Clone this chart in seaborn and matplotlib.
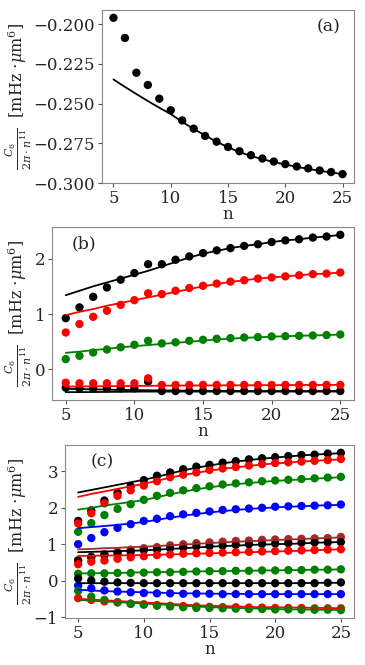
import numpy as np
import seaborn as sns
import matplotlib
matplotlib.use("Agg")
import matplotlib.pyplot as plt

# -------------------------------
# Data
# -------------------------------
n = np.arange(5, 26)

# panel (a)
a_dots = [-0.196, -0.2087, -0.2306, -0.2383, -0.2469, -0.2542, -0.2606, -0.2658, -0.2704,
          -0.2740, -0.2773, -0.2800, -0.2825, -0.2846, -0.2865, -0.2881, -0.2896, -0.2908,
          -0.2921, -0.2931, -0.2944]
a_line = [-0.2348, -0.2395, -0.2440, -0.2484, -0.2526, -0.2566, -0.2615, -0.2660, -0.2700,
          -0.2740, -0.2775, -0.2805, -0.2830, -0.2850, -0.2868, -0.2884, -0.2898, -0.2911,
          -0.2923, -0.2934, -0.2944]

# panel (b)
b_black_dots = [0.925, 1.12, 1.31, 1.48, 1.62, 1.74, 1.90, 1.90, 1.98, 2.04, 2.10, 2.15, 2.19,
                2.23, 2.26, 2.30, 2.33, 2.35, 2.38, 2.40, 2.43]
b_black_line = [1.34, 1.42, 1.50, 1.57, 1.64, 1.71, 1.78, 1.86, 1.94, 2.02, 2.09, 2.14, 2.19,
                2.23, 2.26, 2.30, 2.33, 2.35, 2.38, 2.40, 2.43]
b_red_dots = [0.667, 0.82, 0.95, 1.06, 1.165, 1.25, 1.375, 1.36, 1.42, 1.47, 1.51, 1.55, 1.585,
              1.61, 1.64, 1.66, 1.68, 1.70, 1.72, 1.73, 1.75]
b_red_line = [0.98, 1.04, 1.09, 1.15, 1.20, 1.25, 1.30, 1.35, 1.40, 1.45, 1.50, 1.54, 1.58,
              1.61, 1.64, 1.66, 1.68, 1.70, 1.72, 1.73, 1.75]
b_green_dots = [0.186, 0.246, 0.306, 0.36, 0.40, 0.445, 0.517, 0.47, 0.49, 0.517, 0.535, 0.553,
                0.565, 0.577, 0.583, 0.595, 0.60, 0.607, 0.613, 0.62, 0.63]
b_green_line = [0.30, 0.32, 0.35, 0.37, 0.40, 0.42, 0.44, 0.46, 0.48, 0.50, 0.52, 0.54, 0.555,
                0.57, 0.58, 0.59, 0.60, 0.607, 0.613, 0.62, 0.63]
b_red2_dots = [-0.24, -0.25, -0.25, -0.25, -0.25, -0.25, -0.16, -0.28, -0.28, -0.28, -0.28,
               -0.28, -0.28, -0.28, -0.28, -0.28, -0.28, -0.28, -0.28, -0.28, -0.28]
b_red2_line = [-0.31, -0.308, -0.305, -0.303, -0.30, -0.298, -0.296, -0.294, -0.292, -0.29,
               -0.289, -0.288, -0.287, -0.286, -0.285, -0.284, -0.283, -0.282, -0.281, -0.28, -0.28]
b_black2_dots = [-0.33, -0.34, -0.34, -0.34, -0.34, -0.34, -0.22, -0.39, -0.39, -0.39, -0.39,
                 -0.39, -0.39, -0.39, -0.39, -0.39, -0.39, -0.39, -0.39, -0.39, -0.39]
b_black2_line = [-0.35, -0.355, -0.36, -0.365, -0.37, -0.373, -0.376, -0.379, -0.382, -0.384,
                 -0.386, -0.387, -0.388, -0.389, -0.39, -0.39, -0.39, -0.39, -0.39, -0.39, -0.39]
b_black3_line = [-0.41, -0.41, -0.408, -0.406, -0.404, -0.402, -0.40, -0.40, -0.40, -0.40,
                 -0.40, -0.40, -0.40, -0.40, -0.40, -0.40, -0.40, -0.40, -0.40, -0.40, -0.40]

# panel (c)
c_dots = [
    [1.64, 1.93, 2.20, 2.41, 2.59, 2.76, 2.88, 2.97, 3.06, 3.13, 3.18, 3.24, 3.28, 3.33, 3.36, 3.39, 3.42, 3.45, 3.46, 3.49, 3.51],
    [1.57, 1.85, 2.12, 2.33, 2.48, 2.61, 2.73, 2.84, 2.91, 2.97, 3.04, 3.08, 3.12, 3.16, 3.20, 3.23, 3.25, 3.27, 3.29, 3.31, 3.34],
    [1.34, 1.58, 1.80, 1.97, 2.10, 2.22, 2.33, 2.41, 2.48, 2.54, 2.59, 2.64, 2.67, 2.70, 2.73, 2.75, 2.77, 2.79, 2.81, 2.83, 2.85],
    [1.00, 1.17, 1.33, 1.45, 1.55, 1.64, 1.70, 1.77, 1.82, 1.86, 1.90, 1.94, 1.96, 1.98, 2.00, 2.03, 2.04, 2.05, 2.06, 2.07, 2.09],
    [0.56, 0.66, 0.73, 0.79, 0.85, 0.89, 0.92, 0.97, 1.00, 1.03, 1.05, 1.07, 1.09, 1.10, 1.12, 1.13, 1.14, 1.15, 1.16, 1.17, 1.20],
    [0.55, 0.64, 0.70, 0.75, 0.79, 0.84, 0.85, 0.89, 0.91, 0.94, 0.95, 0.96, 0.98, 1.00, 1.01, 1.02, 1.03, 1.04, 1.05, 1.05, 1.06],
    [0.45, 0.52, 0.55, 0.60, 0.64, 0.67, 0.70, 0.72, 0.74, 0.75, 0.76, 0.77, 0.78, 0.79, 0.80, 0.81, 0.82, 0.83, 0.84, 0.85, 0.86],
    [0.19, 0.20, 0.20, 0.21, 0.21, 0.22, 0.23, 0.23, 0.24, 0.25, 0.26, 0.26, 0.27, 0.27, 0.28, 0.28, 0.29, 0.29, 0.30, 0.30, 0.31],
    [0.06, 0.00, -0.03, -0.05, -0.06, -0.07, -0.07, -0.07, -0.07, -0.07, -0.07, -0.07, -0.07, -0.07, -0.07, -0.07, -0.07, -0.07, -0.07, -0.06, -0.05],
    [-0.14, -0.21, -0.27, -0.30, -0.32, -0.34, -0.35, -0.35, -0.36, -0.36, -0.36, -0.37, -0.37, -0.37, -0.37, -0.37, -0.37, -0.37, -0.37, -0.37, -0.37],
    [-0.48, -0.53, -0.57, -0.60, -0.63, -0.65, -0.67, -0.69, -0.70, -0.71, -0.72, -0.73, -0.73, -0.74, -0.74, -0.75, -0.75, -0.75, -0.76, -0.76, -0.76],
    [-0.28, -0.44, -0.53, -0.59, -0.64, -0.66, -0.69, -0.71, -0.73, -0.75, -0.75, -0.76, -0.77, -0.78, -0.78, -0.79, -0.79, -0.80, -0.80, -0.80, -0.81],
]
c_lines = [
    [2.42, 2.49, 2.56, 2.63, 2.70, 2.77, 2.85, 2.94, 3.03, 3.10, 3.16, 3.22, 3.27, 3.31, 3.35, 3.38, 3.41, 3.44, 3.46, 3.48, 3.50],
    [2.30, 2.38, 2.45, 2.52, 2.59, 2.66, 2.74, 2.83, 2.90, 2.96, 3.02, 3.07, 3.11, 3.15, 3.19, 3.22, 3.24, 3.27, 3.29, 3.31, 3.33],
    [1.95, 2.00, 2.06, 2.11, 2.16, 2.21, 2.29, 2.37, 2.44, 2.51, 2.56, 2.61, 2.65, 2.68, 2.71, 2.74, 2.76, 2.78, 2.80, 2.82, 2.84],
    [1.44, 1.47, 1.50, 1.53, 1.57, 1.61, 1.67, 1.73, 1.78, 1.83, 1.87, 1.91, 1.94, 1.97, 1.99, 2.01, 2.03, 2.04, 2.06, 2.07, 2.08],
    [0.86, 0.87, 0.89, 0.90, 0.92, 0.93, 0.95, 0.97, 0.99, 1.01, 1.03, 1.05, 1.07, 1.08, 1.10, 1.11, 1.13, 1.14, 1.16, 1.17, 1.19],
    [0.78, 0.79, 0.80, 0.81, 0.82, 0.83, 0.85, 0.87, 0.89, 0.91, 0.93, 0.95, 0.96, 0.98, 0.99, 1.00, 1.01, 1.02, 1.04, 1.05, 1.06],
    [0.68, 0.68, 0.69, 0.69, 0.70, 0.70, 0.71, 0.72, 0.73, 0.74, 0.75, 0.76, 0.77, 0.78, 0.79, 0.80, 0.81, 0.82, 0.83, 0.85, 0.86],
    [0.20, 0.20, 0.21, 0.21, 0.22, 0.23, 0.23, 0.24, 0.25, 0.25, 0.26, 0.26, 0.27, 0.27, 0.28, 0.28, 0.29, 0.29, 0.30, 0.30, 0.31],
    [-0.07, -0.07, -0.07, -0.07, -0.07, -0.07, -0.07, -0.07, -0.07, -0.07, -0.07, -0.07, -0.07, -0.07, -0.07, -0.07, -0.07, -0.07, -0.06, -0.06, -0.06],
    [-0.25, -0.27, -0.29, -0.30, -0.31, -0.32, -0.33, -0.34, -0.35, -0.35, -0.36, -0.36, -0.36, -0.37, -0.37, -0.37, -0.37, -0.37, -0.37, -0.37, -0.37],
    [-0.50, -0.52, -0.54, -0.56, -0.58, -0.60, -0.62, -0.64, -0.66, -0.68, -0.69, -0.70, -0.71, -0.72, -0.73, -0.73, -0.74, -0.74, -0.75, -0.75, -0.76],
    [-0.53, -0.55, -0.57, -0.59, -0.61, -0.63, -0.65, -0.67, -0.69, -0.71, -0.73, -0.74, -0.75, -0.76, -0.77, -0.78, -0.79, -0.79, -0.80, -0.80, -0.81],
]
c_colors = ["black", "red", "green", "blue", "brown", "black", "red",
            "green", "black", "blue", "red", "green"]

# -------------------------------
# Style
# -------------------------------
sns.set_style("ticks")
plt.rcParams["font.family"] = ["DejaVu Serif"]
plt.rcParams["mathtext.fontset"] = "dejavuserif"
plt.rcParams["font.size"] = 12

ylab = r"$\frac{C_6}{2\pi\cdot n^{11}}$  [mHz $\cdot\mu$m$^6$]"
DOT = 36
LW = 1.3


def style_ax(ax, label_x):
    for s in ax.spines.values():
        s.set_color("#888888")
    ax.tick_params(labelsize=12, length=3, pad=2, color="#555555")
    ax.set_xticks([5, 10, 15, 20, 25])
    ax.set_xlabel("n", fontsize=12, labelpad=-1)
    ax.set_ylabel(ylab, fontsize=11.5)
    ax.yaxis.set_label_coords(label_x, 0.5)


def dots_and_line(ax, y_dots, y_line, color):
    sns.scatterplot(x=n, y=y_dots, color=color, s=DOT, edgecolor="none", ax=ax)
    if y_line is not None:
        sns.lineplot(x=n, y=y_line, color=color, lw=LW, ax=ax)


fig = plt.figure(figsize=(3.65, 6.65), dpi=100)

# -------------------------------
# Panel (a)
# -------------------------------
ax1 = fig.add_axes([0.2795, 0.7248, 0.6904, 0.2602])
dots_and_line(ax1, a_dots, a_line, "black")
ax1.set_yticks([-0.300, -0.275, -0.250, -0.225, -0.200])
ax1.set_yticklabels(["\u22120.300", "\u22120.275", "\u22120.250", "\u22120.225", "\u22120.200"])
ax1.text(0.853, 0.90, "(a)", transform=ax1.transAxes, fontsize=12.5, va="center")
style_ax(ax1, -0.270)

# -------------------------------
# Panel (b)
# -------------------------------
ax2 = fig.add_axes([0.1425, 0.3985, 0.8274, 0.2602])
dots_and_line(ax2, b_black_dots, b_black_line, "black")
dots_and_line(ax2, b_red_dots, b_red_line, "red")
dots_and_line(ax2, b_green_dots, b_green_line, "green")
dots_and_line(ax2, b_black2_dots, b_black2_line, "black")
dots_and_line(ax2, b_red2_dots, b_red2_line, "red")
sns.lineplot(x=n, y=b_black3_line, color="black", lw=LW, ax=ax2)
ax2.set_yticks([0, 1, 2])
ax2.text(0.066, 0.90, "(b)", transform=ax2.transAxes, fontsize=12.5, va="center")
style_ax(ax2, -0.060)

# -------------------------------
# Panel (c)
# -------------------------------
ax3 = fig.add_axes([0.1781, 0.0707, 0.7918, 0.2602])
for yd, yl, col in zip(c_dots, c_lines, c_colors):
    dots_and_line(ax3, yd, yl, col)
ax3.set_yticks([-1, 0, 1, 2, 3])
ax3.set_yticklabels(["\u22121", "0", "1", "2", "3"])
ax3.text(0.09, 0.90, "(c)", transform=ax3.transAxes, fontsize=12.5, va="center")
style_ax(ax3, -0.107)

fig.savefig("out.png", dpi=100)
